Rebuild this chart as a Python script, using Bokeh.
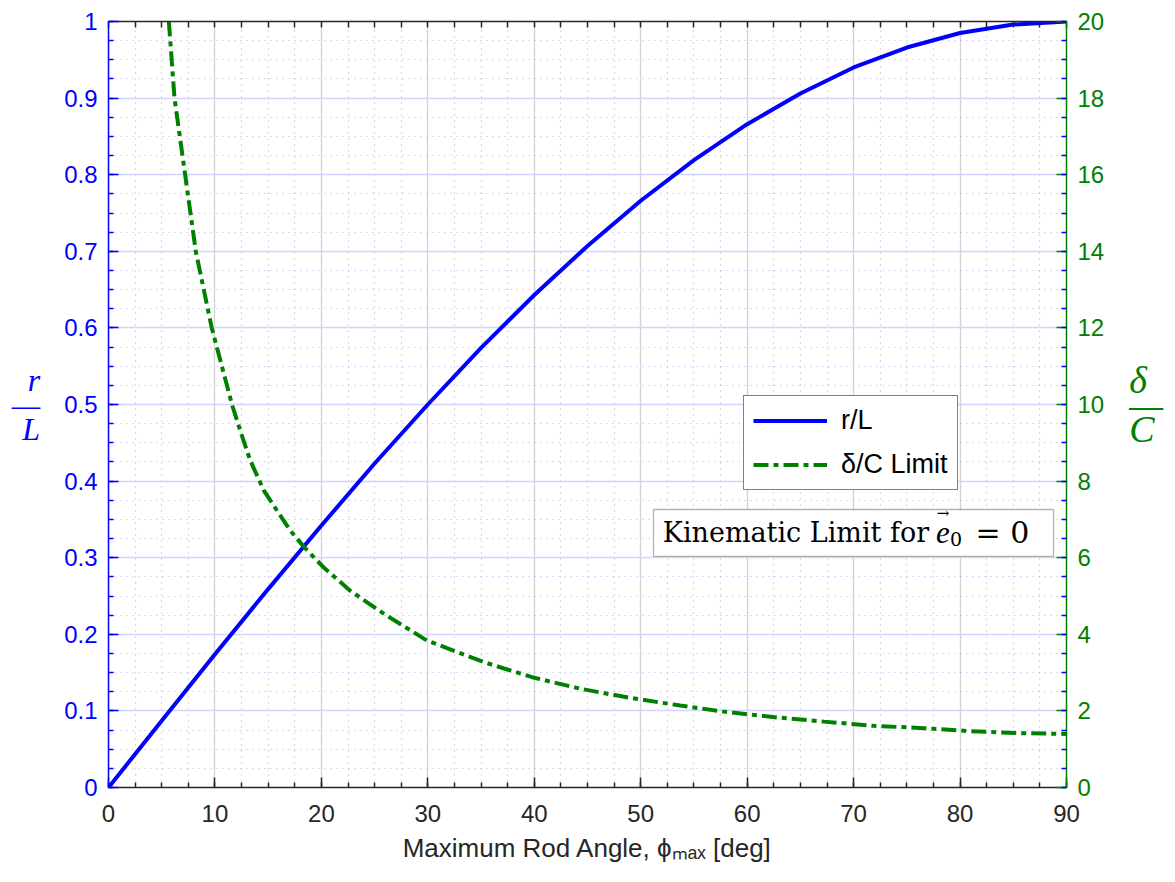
from bokeh.plotting import figure
from bokeh.models import (Range1d, LinearAxis, FixedTicker, Label, BoxAnnotation,
                          Legend, LegendItem)
from bokeh.embed import file_html
from bokeh.resources import INLINE

# ---- data ----
phi_rl = [0, 5, 10, 15, 20, 25, 30, 35, 40, 45, 50, 55, 60, 65, 70, 75, 80, 85, 90]
r_over_L = [0.0, 0.087, 0.174, 0.259, 0.342, 0.423, 0.5, 0.574, 0.643, 0.707,
            0.766, 0.819, 0.866, 0.906, 0.940, 0.966, 0.985, 0.996, 1.0]

phi_dc = [5.67, 6.2, 7.2, 8.2, 9.7, 11.6, 12.4, 13.3, 14.6, 15.9, 17.1, 18.4, 20.2,
          22.7, 25.9, 29.9, 35.3, 39.8, 44.3, 49.0, 53.7, 58.1, 62.8, 67.2, 71.9,
          76.6, 81.0, 85.4, 90.0]
delta_over_C = [20.0, 18.0, 16.0, 14.0, 12.0, 10.0, 9.3, 8.55, 7.75, 7.2, 6.7, 6.27, 5.75,
                5.14, 4.53, 3.84, 3.27, 2.88, 2.58, 2.34, 2.14, 1.97, 1.83, 1.72, 1.61,
                1.55, 1.47, 1.42, 1.40]

x_ticks = [0, 10, 20, 30, 40, 50, 60, 70, 80, 90]
x_minor = [i * 2.5 for i in range(37)]
yl_ticks = [round(i * 0.1, 1) for i in range(11)]
yl_minor = [i * 0.025 for i in range(41)]
yr_ticks = [i * 2 for i in range(11)]
yr_minor = [i * 0.5 for i in range(41)]

BLUE = "#0000ff"
GREEN = "#008000"
DARK = "#262626"
SANS = "Liberation Sans"
SERIF = "Liberation Serif"
TICK_SIZE = "24px"

p = figure(width=1175, height=882, output_backend="svg", toolbar_location=None,
           x_range=Range1d(0, 90), y_range=Range1d(0, 1),
           min_border_left=108, min_border_right=109, min_border_top=21,
           min_border_bottom=95, x_axis_location=None, y_axis_location=None)
p.outline_line_color = None
p.background_fill_color = "white"
p.border_fill_color = "white"
p.extra_y_ranges = {"dc": Range1d(0, 20)}

def style_axis(ax, color, tick_color, minor_color):
    ax.axis_line_color = color
    ax.axis_line_width = 1.5
    ax.major_tick_line_color = tick_color
    ax.major_tick_line_width = 1.5
    ax.minor_tick_line_color = minor_color
    ax.minor_tick_line_width = 1.5
    ax.major_tick_in = 10
    ax.major_tick_out = 0
    ax.minor_tick_in = 5
    ax.minor_tick_out = 0
    ax.major_label_text_font = SANS
    ax.major_label_text_font_size = TICK_SIZE
    ax.major_label_text_color = tick_color

# bottom x axis
xb = LinearAxis(ticker=FixedTicker(ticks=x_ticks, minor_ticks=x_minor))
style_axis(xb, DARK, DARK, DARK)
xb.major_label_standoff = 17
xb.axis_label = "Maximum Rod Angle, ϕₘₐₓ [deg]"
xb.axis_label_text_font = SANS
xb.axis_label_text_font_style = "normal"
xb.axis_label_text_font_size = "26px"
xb.axis_label_text_color = DARK
xb.axis_label_standoff = 8
p.add_layout(xb, "below")

# top box edge with ticks only
xt = LinearAxis(ticker=FixedTicker(ticks=[], minor_ticks=x_minor))
style_axis(xt, DARK, DARK, DARK)
xt.minor_tick_in = 6
p.add_layout(xt, "above")

# left axis r/L
yl = LinearAxis(ticker=FixedTicker(ticks=yl_ticks, minor_ticks=yl_minor))
style_axis(yl, BLUE, BLUE, BLUE)
yl.major_label_standoff = 11
yl.major_label_overrides = {0: "0", 1: "1"}
yl.axis_label = "r\n—\nL"
yl.axis_label_orientation = "horizontal"
yl.axis_label_text_font = SERIF
yl.axis_label_text_font_style = "italic"
yl.axis_label_text_font_size = "32px"
yl.axis_label_text_color = BLUE
yl.axis_label_text_line_height = 0.67
yl.axis_label_text_align = "center"
yl.axis_label_standoff = 21
p.add_layout(yl, "left")

# right axis delta/C
yr = LinearAxis(y_range_name="dc", ticker=FixedTicker(ticks=yr_ticks, minor_ticks=yr_minor))
style_axis(yr, GREEN, GREEN, BLUE)
yr.major_label_standoff = 11
yr.axis_label = "δ\n—\nC"
yr.axis_label_orientation = "horizontal"
yr.axis_label_text_font = SERIF
yr.axis_label_text_font_style = "italic"
yr.axis_label_text_font_size = "38px"
yr.axis_label_text_color = GREEN
yr.axis_label_text_line_height = 0.58
yr.axis_label_text_align = "center"
yr.axis_label_standoff = 22
p.add_layout(yr, "right")

# grids
p.xgrid.ticker = xb.ticker
p.ygrid.ticker = yl.ticker
p.xgrid.grid_line_color = "#d3d3d3"
p.xgrid.grid_line_width = 1.3
p.xgrid.minor_grid_line_color = "#b8b8b8"
p.xgrid.minor_grid_line_dash = "1 5"
p.xgrid.minor_grid_line_width = 1.2
p.ygrid.grid_line_color = "#d3d3ff"
p.ygrid.grid_line_width = 1.3
p.ygrid.minor_grid_line_color = "#b0b0ff"
p.ygrid.minor_grid_line_dash = "1 5"
p.ygrid.minor_grid_line_width = 1.2

r1 = p.line(phi_rl, r_over_L, line_color=BLUE, line_width=4)
r2 = p.line(phi_dc, delta_over_C, line_color=GREEN, line_width=4,
            line_dash="15 5 5 5", y_range_name="dc")

legend = Legend(items=[LegendItem(label="r/L", renderers=[r1]),
                       LegendItem(label="δ/C Limit", renderers=[r2])],
                location=(635, 297))
legend.label_text_font = SANS
legend.label_text_font_size = "27px"
legend.label_text_color = "black"
legend.padding = 9
legend.margin = 0
legend.spacing = 13
legend.label_height = 29
legend.glyph_height = 29
legend.glyph_width = 74
legend.label_standoff = 14
legend.border_line_color = "black"
legend.border_line_width = 1.3
legend.background_fill_alpha = 1
p.add_layout(legend, "center")

# Kinematic limit text box
p.add_layout(BoxAnnotation(left=51.2, right=88.78, bottom=0.3016, top=0.3629,
                           fill_color="white", fill_alpha=1,
                           line_color="black", line_width=1.3))
for txt, xx, yy, font, style, size, align in [
        ("Kinematic Limit for", 77.10, 0.3325, "DejaVu Serif", "normal", "27px", "right"),
        ("e", 77.75, 0.3325, SERIF, "italic", "31px", "left"),
        ("→", 78.40, 0.3580, "DejaVu Serif", "normal", "15px", "center"),
        ("0", 79.05, 0.3250, "DejaVu Serif", "normal", "19px", "left"),
        ("= 0", 81.45, 0.3325, "DejaVu Serif", "normal", "30px", "left")]:
    p.add_layout(Label(x=xx, y=yy, text=txt, text_font=font, text_font_style=style,
                       text_font_size=size, text_align=align,
                       text_baseline="alphabetic", text_color="black"))

open("out.html", "w").write(file_html(p, INLINE))
